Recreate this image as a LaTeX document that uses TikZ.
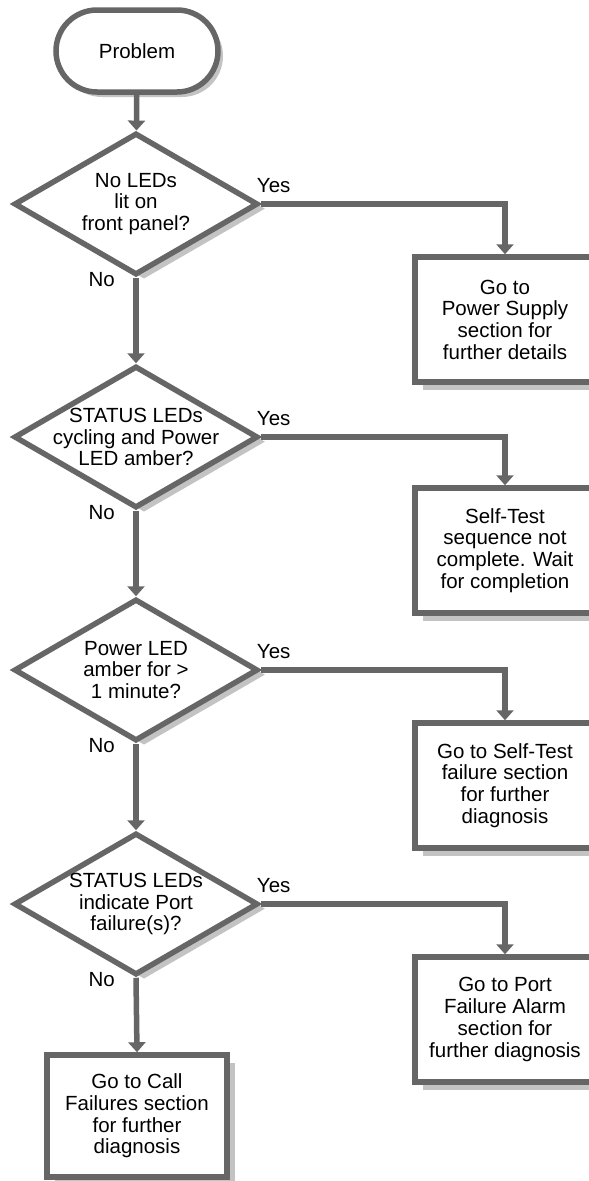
\documentclass[tikz,border=0pt]{standalone}
\usepackage{fontspec}
\setmainfont{Liberation Sans}
\usepackage{tikz}
\usetikzlibrary{shapes.geometric, shadows, arrows.meta}

\definecolor{linegray}{RGB}{102,102,102}
\definecolor{shadegray}{RGB}{195,195,195}

\tikzset{
  base/.style={draw=linegray, line width=5.5pt, fill=white, inner sep=0pt,
    font=\fontsize{20.5}{21.7}\selectfont, align=center},
  startstop/.style={base, rectangle, rounded corners=41pt, minimum width=162pt, minimum height=82pt,
    drop shadow={shadow xshift=5pt, shadow yshift=-5pt, fill=shadegray, opacity=1}},
  decision/.style={base, diamond, minimum width=244pt, minimum height=142pt,
    drop shadow={shadow xshift=8pt, shadow yshift=-4.65pt, fill=shadegray, opacity=1}},
  action/.style={base, rectangle, minimum width=180pt, minimum height=125pt,
    drop shadow={shadow xshift=8pt, shadow yshift=-7.5pt, fill=shadegray, opacity=1}},
  answer/.style={inner sep=0pt, font=\fontsize{20.5}{21.7}\selectfont, align=center},
  flow/.style={draw=linegray, line width=5.5pt, -{Triangle[width=17pt,length=10pt]}}
}

\begin{document}
\begin{tikzpicture}[x=1pt, y=-1pt]
% page frame, boxes on the right run past it
\useasboundingbox (0,0) rectangle (589,1181);
\clip (0,0) rectangle (589,1181);

% start
\node[startstop] (start) at (137,51) {Problem};

% questions
\node[decision, label={[answer]center:No LEDs\\lit on\\front panel?}] (d1) at (136,204) {};
\node[decision, label={[answer]center:STATUS LEDs\\cycling and Power\\LED amber?}] (d2) at (136,437) {};
\node[decision, label={[answer]center:Power LED\\amber for >\\1 minute?}] (d3) at (136,670) {};
\node[decision, label={[answer]center:STATUS LEDs\\indicate Port\\failure(s)?}] (d4) at (136,904) {};

% actions
\node[action] (b1) at (505,319.5) {Go to\\Power Supply\\section for\\further details};
\node[action] (b2) at (505,550.5) {Self-Test\\sequence not\\complete. Wait\\for completion};
\node[action] (b3) at (505,785.5) {Go to Self-Test\\failure section\\for further\\diagnosis};
\node[action] (b4) at (505,1019.5) {Go to Port\\Failure Alarm\\section for\\further diagnosis};
\node[action, minimum height=122pt] (b5) at (137,1116) {Go to Call\\Failures section\\for further\\diagnosis};

% no branch
\draw[flow] (start) -- (d1);
\draw[flow] (d1.south) -- (d2.north);
\draw[flow] (d2.south) -- (d3.north);
\draw[flow] (d3.south) -- (d4.north);
\draw[flow] (d4.south) -- (b5.north);

% yes branch
\draw[flow] (d1.east) -| (b1.north);
\draw[flow] (d2.east) -| (b2.north);
\draw[flow] (d3.east) -| (b3.north);
\draw[flow] (d4.east) -| (b4.north);

% answers
\foreach \d in {1,2,3,4}{
\node[answer, anchor=base west] (y\d) at ([xshift=-4pt, yshift=12pt]d\d.east) {Yes};
\node[answer, anchor=base east] (n\d) at ([xshift=-21pt, yshift=-9pt]d\d.south) {No};
}

\end{tikzpicture}
\end{document}
